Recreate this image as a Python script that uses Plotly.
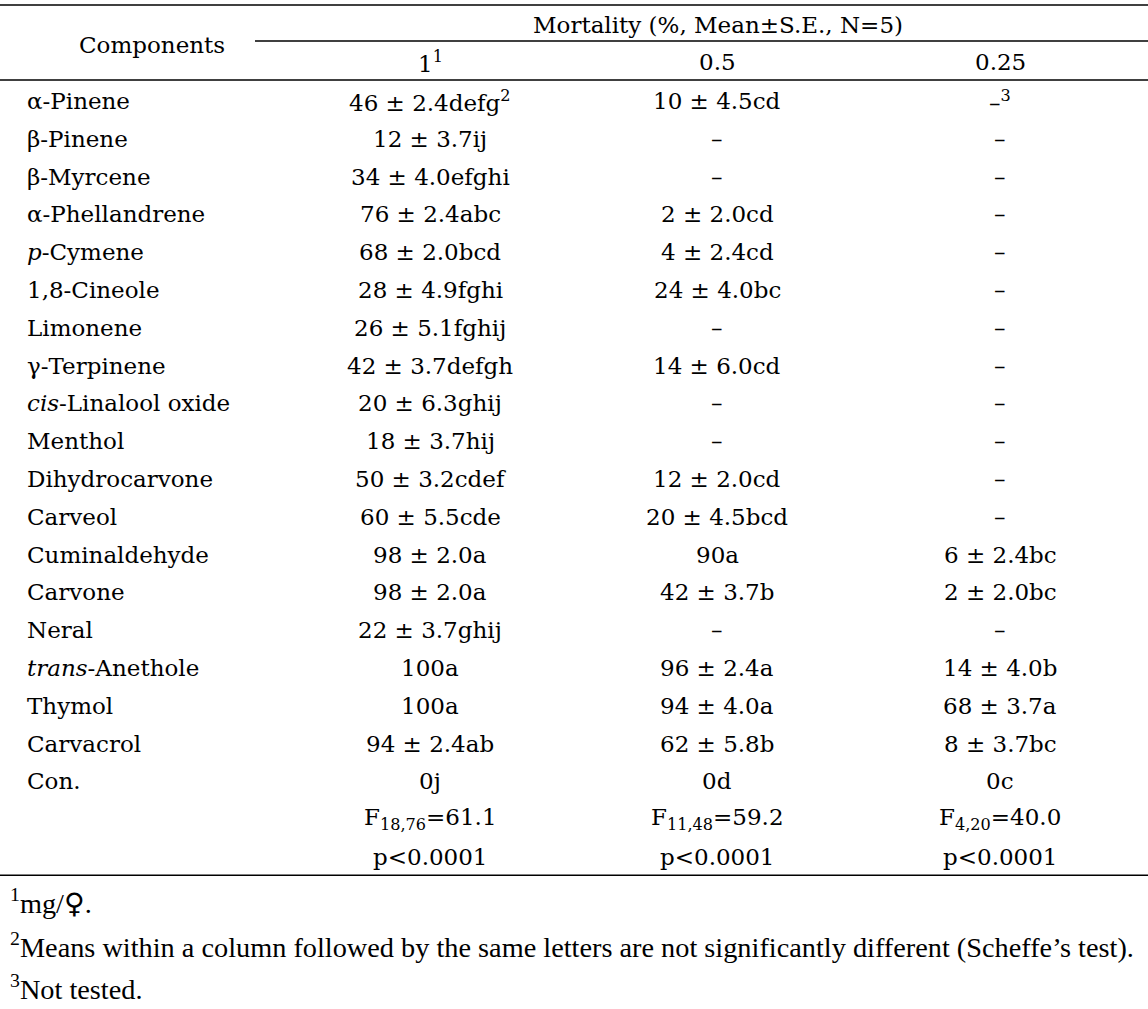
import plotly.graph_objects as go

# ---------------- data ----------------
components = ["α-Pinene", "β-Pinene", "β-Myrcene", "α-Phellandrene", "<i>p</i>-Cymene",
              "1,8-Cineole", "Limonene", "γ-Terpinene", "<i>cis</i>-Linalool oxide", "Menthol",
              "Dihydrocarvone", "Carveol", "Cuminaldehyde", "Carvone", "Neral",
              "<i>trans</i>-Anethole", "Thymol", "Carvacrol", "Con."]
dose_1 = ["46±2.4defg<sup>2</sup>", "12±3.7ij", "34±4.0efghi", "76±2.4abc", "68±2.0bcd",
          "28±4.9fghi", "26±5.1fghij", "42±3.7defgh", "20±6.3ghij", "18±3.7hij",
          "50±3.2cdef", "60±5.5cde", "98±2.0a", "98±2.0a", "22±3.7ghij",
          "100a", "100a", "94±2.4ab", "0j"]
dose_05 = ["10±4.5cd", "–", "–", "2±2.0cd", "4±2.4cd",
           "24±4.0bc", "–", "14±6.0cd", "–", "–",
           "12±2.0cd", "20±4.5bcd", "90a", "42±3.7b", "–",
           "96±2.4a", "94±4.0a", "62±5.8b", "0d"]
dose_025 = ["–<sup>3</sup>", "–", "–", "–", "–",
            "–", "–", "–", "–", "–",
            "–", "–", "6±2.4bc", "2±2.0bc", "–",
            "14±4.0b", "68±3.7a", "8±3.7bc", "0c"]
dose_labels = ["1<sup>1</sup>", "0.5", "0.25"]
f_stats = ["F<sub>18,76</sub>=61.1", "F<sub>11,48</sub>=59.2", "F<sub>4,20</sub>=40.0"]
p_values = ["p<0.0001", "p<0.0001", "p<0.0001"]
header_group = "Mortality (%, Mean±S.E., N=5)"
header_first = "Components"
footnotes = ["<sup>1</sup>mg/<span style=\"font-family:'DejaVu Sans'\">♀</span>.",
             "<sup>2</sup>Means within a column followed by the same letters are not significantly different (Scheffe’s test).",
             "<sup>3</sup>Not tested."]

# ---------------- layout constants ----------------
FONT = "DejaVu Serif"
FS = 23
FOOT_FONT = "Liberation Serif"
FOOT_FS = 28.3
col_x = [430, 717, 1000]
comp_x = 25
W, H = 1148, 1009

fig = go.Figure()
n = len(components)

annotations = []
def add(text, x, y, anchor="center", size=FS, family=FONT):
    annotations.append(dict(text=text, x=x, y=y, xref="x", yref="y", showarrow=False,
                            xanchor=anchor, yanchor="middle",
                            font=dict(family=family, size=size, color="black")))

def pm(s):
    return s.replace("±", " ± ")

# body
for i, c in enumerate(components):
    add(c, comp_x, i, "left")
for col, vals in zip(col_x, [dose_1, dose_05, dose_025]):
    for i, v in enumerate(vals):
        add(pm(v), col, i)
# stats rows
for col, f, p in zip(col_x, f_stats, p_values):
    add(f, col, n)
    add(p, col, n + 1)
# headers
add(header_first, 152, -1.48)
add(header_group, 718, -2.01)
for col, lab in zip(col_x, dose_labels):
    add(lab, col, -1.03)
# footnotes
for k, ft in enumerate(footnotes):
    add(ft, 8, 21.19 + 1.125 * k, "left", FOOT_FS, FOOT_FONT)

# invisible trace to anchor axes
fig.add_trace(go.Scatter(x=[comp_x] + col_x, y=[0, 0, 0, 0], mode="markers",
                         marker=dict(opacity=0), hoverinfo="skip", showlegend=False))

line = dict(color="black", width=1.5)
shapes = [
    dict(type="line", xref="x", yref="y", x0=0, x1=W, y0=-2.54, y1=-2.54, line=line),
    dict(type="line", xref="x", yref="y", x0=255, x1=W, y0=-1.587, y1=-1.587, line=line),
    dict(type="line", xref="x", yref="y", x0=0, x1=W, y0=-0.556, y1=-0.556, line=line),
    dict(type="line", xref="x", yref="y", x0=0, x1=W, y0=20.48, y1=20.48, line=line),
]

px_per_row = 37.8
y_top = -101 / px_per_row
y_bot = (H - 101) / px_per_row

fig.update_layout(
    width=W, height=H, margin=dict(l=0, r=0, t=0, b=0),
    paper_bgcolor="white", plot_bgcolor="white",
    xaxis=dict(range=[0, W], visible=False, fixedrange=True),
    yaxis=dict(range=[y_bot, y_top], visible=False, fixedrange=True),
    annotations=annotations, shapes=shapes, showlegend=False,
)
fig.write_html("out.html", config={"displayModeBar": False},
               post_script="document.body.style.margin='0';document.body.style.overflow='hidden';")
